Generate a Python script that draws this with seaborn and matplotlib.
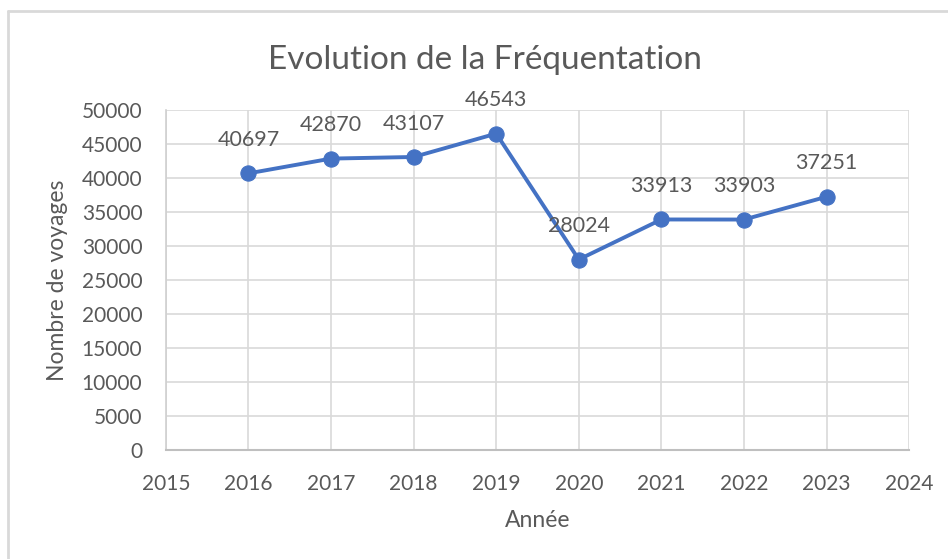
import matplotlib
matplotlib.use("Agg")
import matplotlib.pyplot as plt
import seaborn as sns
import pandas as pd
from matplotlib.lines import Line2D

# données
annees = [2016, 2017, 2018, 2019, 2020, 2021, 2022, 2023]
voyages = [40697, 42870, 43107, 46543, 28024, 33913, 33903, 37251]

df = pd.DataFrame({"annee": annees, "voyages": voyages})

sns.set_theme(style="whitegrid")
plt.rcParams["font.family"] = ["Lato", "DejaVu Sans"]

gris = "#595959"
bleu = "#4472C4"

fig = plt.figure(figsize=(9.48, 5.59), dpi=100)
ax = fig.add_axes([0.175, 0.195, 0.784, 0.608])

sns.lineplot(data=df, x="annee", y="voyages", ax=ax, color=bleu, linewidth=2.8,
             marker="o", markersize=11, markeredgecolor=bleu)

for a, v in zip(annees, voyages):
    ax.annotate(str(v), (a, v), xytext=(0, 24), textcoords="offset points",
                ha="center", va="center", fontsize=15.5, color=gris)

ax.set_xlim(2015, 2024)
ax.set_ylim(0, 50000)
ax.set_xticks(range(2015, 2025))
ax.set_yticks(range(0, 50001, 5000))
ax.tick_params(axis="both", labelsize=15, colors=gris, length=0)
ax.tick_params(axis="x", pad=17)
ax.tick_params(axis="y", pad=17)
ax.grid(True, color="#d9d9d9", linewidth=1.2)
for s in ["top", "right"]:
    ax.spines[s].set_visible(False)
ax.spines["left"].set_color("#d0d0d0")
ax.spines["bottom"].set_color("#bfbfbf")
ax.spines["left"].set_linewidth(1.2)
ax.spines["bottom"].set_linewidth(1.5)

ax.set_xlabel("Année", fontsize=16.5, color=gris, labelpad=12)
ax.set_ylabel("Nombre de voyages", fontsize=16.5, color=gris, labelpad=10)

fig.text(0.512, 0.893, "Evolution de la Fréquentation", ha="center", va="center",
         fontsize=24, color=gris)

# bord du cadre (haut et gauche seulement)
fig.lines.append(Line2D([0.008, 1.0], [0.981, 0.981], transform=fig.transFigure,
                        color="#d9d9d9", linewidth=2))
fig.lines.append(Line2D([0.008, 0.008], [0.0, 0.981], transform=fig.transFigure,
                        color="#d9d9d9", linewidth=2))

fig.savefig("out.png", dpi=100)
